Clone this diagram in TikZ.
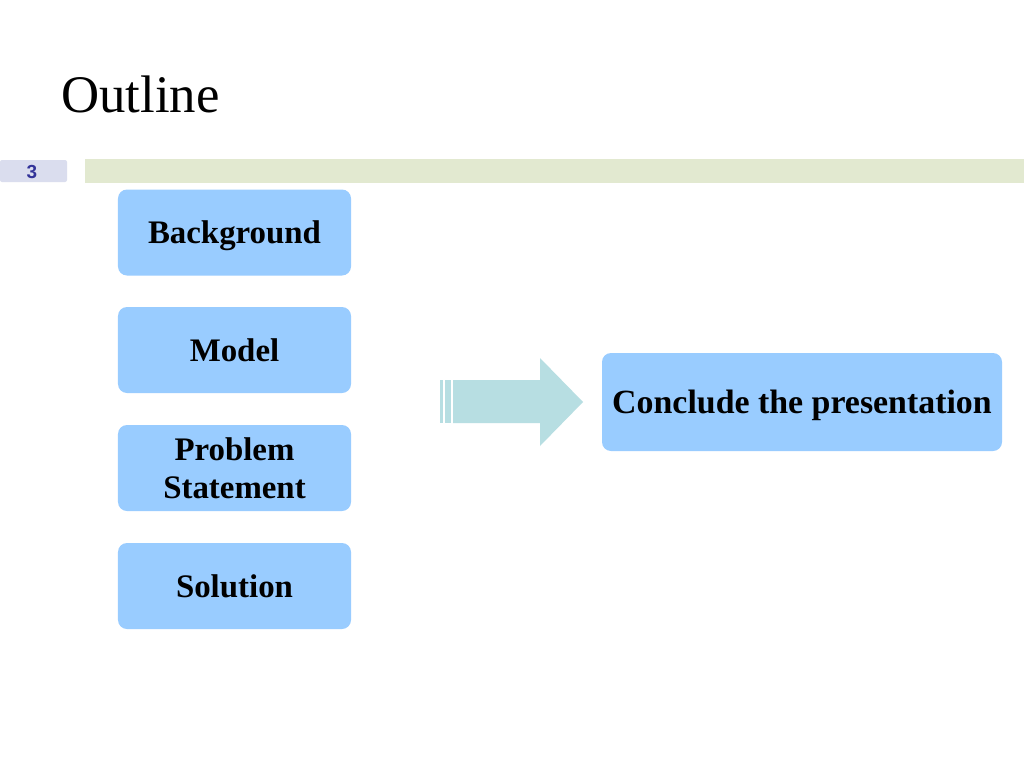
\documentclass[tikz,border=0pt]{standalone}
\usepackage{fontspec}
\setmainfont{Liberation Serif}
\newfontfamily\badgefont{Liberation Sans}
\definecolor{boxblue}{HTML}{99CCFF}
\definecolor{arrowteal}{HTML}{B7DEE2}
\definecolor{barGreen}{HTML}{E2E9D0}
\definecolor{badgeGray}{HTML}{DADDEE}
\definecolor{badgeText}{HTML}{333399}
\tikzset{
  topicbox/.style={fill=boxblue, draw=none, rounded corners=9bp,
    minimum width=233bp, minimum height=86bp, inner sep=0pt,
    font=\fontsize{33}{38}\selectfont\bfseries, align=center,
    text height=23bp, text depth=1bp},
}
\begin{document}
\begin{tikzpicture}[x=1bp,y=-1bp]
\useasboundingbox[fill=white] (0,0) rectangle (1024,768);
% title
\node[anchor=base west, inner sep=0pt, font=\fontsize{53}{60}\selectfont] (title) at (61,112) {Outline};
% header bar and badge
\fill[barGreen] (85,159) rectangle (1024,183);
\fill[badgeGray, rounded corners=2bp] (0,160) rectangle (67,182);
\node[inner sep=0pt, font=\badgefont\bfseries\fontsize{19}{21}\selectfont, text=badgeText] (pagenum) at (32,172) {3};
% topic boxes
\node[topicbox] (bg) at (234.5,232.5) {Background};
\node[topicbox] (model) at (234.5,350) {Model};
\node[topicbox, text height=, text depth=] (prob) at (234.5,468) {Problem\\Statement};
\node[topicbox] (sol) at (234.5,586) {Solution};
% conclusion box
\node[topicbox, minimum width=400bp, minimum height=98bp, font=\fontsize{34}{38}\selectfont\bfseries] (concl) at (802,402) {Conclude the presentation};
% block arrow
\fill[arrowteal] (440,380) rectangle (442.5,423);
\fill[arrowteal] (444.5,380) rectangle (450.5,423);
\fill[arrowteal] (453,380) -- (540,380) -- (540,358) -- (583,402) -- (540,446) -- (540,423) -- (453,423) -- cycle;
\end{tikzpicture}
\end{document}
